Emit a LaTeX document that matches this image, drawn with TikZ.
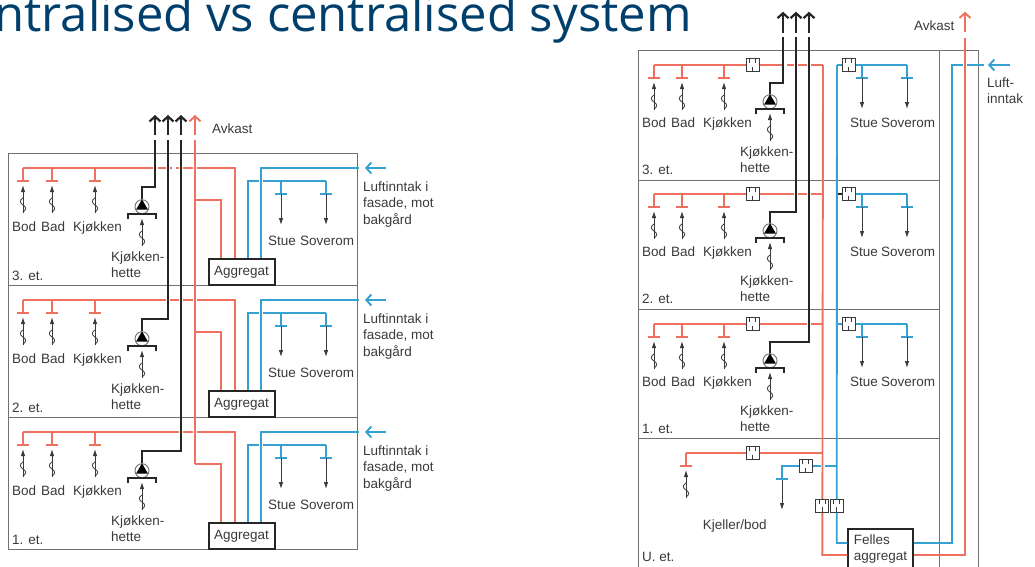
\documentclass[tikz,border=0pt]{standalone}
\usepackage{fontspec}
\setmainfont{Liberation Sans}
\newfontfamily\titlefont{Open Sans}
\usetikzlibrary{arrows.meta,calc}
\definecolor{ductr}{HTML}{F0705F}
\definecolor{ductb}{HTML}{35A0D2}
\definecolor{inkk}{HTML}{3A3A3A}
\definecolor{wallc}{HTML}{707070}
\definecolor{titlec}{HTML}{003F6C}
\tikzset{
  wall/.style={draw=wallc, line width=1pt},
  ductred/.style={draw=ductr, line width=1.9pt},
  ductblu/.style={draw=ductb, line width=1.9pt},
  ductblk/.style={draw=black!85, line width=2.2pt},
  outr/.style={-{Straight Barb[length=5pt,width=11pt]}},
  gap/.style={draw=white, line width=3pt},
  flowline/.style={draw=inkk, line width=0.9pt, -{Latex[length=7pt,width=4.5pt]}},
  lbl/.style={font=\fontsize{13.5}{16.5}\selectfont, text=inkk, anchor=base west, inner sep=0pt, align=left},
  agg/.style={draw=black!85, line width=2pt, fill=white, inner sep=0pt, font=\fontsize{13.5}{16.5}\selectfont, text=inkk},
  fan/.style={circle, draw=wallc, line width=0.9pt, minimum size=14pt, inner sep=0pt},
  damper/.style={draw=inkk, line width=1pt, fill=white, minimum size=13pt, inner sep=0pt, path picture={
    \draw[inkk, line width=0.9pt] ([xshift=-3pt]path picture bounding box.north) -- ++(0,4.5)
      ([xshift=3pt]path picture bounding box.north) -- ++(0,4.5)
      (path picture bounding box.south) -- ++(0,-5);}},
  flow/.pic={
    \draw[flowline] (0,28) -- (0,0);
    \draw[inkk, line width=0.8pt] (0,27) .. controls (3.5,25) and (3.5,22) .. (0,20) .. controls (-3.5,18) and (-3.5,15) .. (0,13);},
  exhaust/.pic={
    \draw[ductred] (0,0) -- (0,13) (-6,13) -- (6,13);
    \pic at (0,17) {flow};},
  intake/.pic={
    \draw[ductblu] (0,0) -- (0,13) (-6,13) -- (6,13);
    \draw[flowline] (0,13) -- (0,44);},
  hood/.pic={
    \fill[black] (0,-7.5) -- (6,3) -- (-6,3) -- cycle;
    \draw[ductblk] (-14,12.5) |- (14,7.5) -- (14,12.5);
    \pic at (0,11.3) {flow};}
}
\begin{document}
\begin{tikzpicture}[x=1pt,y=-1pt]
  \useasboundingbox (0,0) rectangle (1035,566);
  \node[font=\titlefont\fontsize{49}{49}\selectfont, text=titlec, anchor=base east, inner sep=0pt] (title) at (692,31) {ntralised vs centralised system};
  % decentralised, one unit per floor
  \draw[wall] (8,153.5) rectangle (357.5,549) (8,285.5) -- (357.5,285.5) (8,417.5) -- (357.5,417.5);
  \foreach \fl/\dy/\rx/\gaps in {3/0/155/{155.8,168,174,181,195},2/132/168/{168,181,195},1/264/181/{181,195}} {
    \node[agg, minimum width=66pt, minimum height=26pt] (agg\fl) at (241.5,272+\dy) {Aggregat};
    \node[fan] (fan\fl) at (142,206.7+\dy) {};
    \pic at (142,206.7+\dy) {hood};
    \pic at (23,168+\dy) {exhaust};
    \pic at (52,168+\dy) {exhaust};
    \pic at (95,168+\dy) {exhaust};
    \pic at (281,181+\dy) {intake};
    \pic at (326,181+\dy) {intake};
    \draw[ductred] (23,168+\dy) -| ([xshift=-6.5pt]agg\fl.north);
    \foreach \x in \gaps {\draw[gap] (\x-2.4,168+\dy) -- (\x+2.4,168+\dy);}
    \draw[ductred] (195,199.6+\dy) -| ([xshift=-20.3pt]agg\fl.north);
    \draw[ductblu] ([xshift=6.5pt]agg\fl.north) |- (326,181+\dy);
    \draw[gap] (258.6,181+\dy) -- (263.4,181+\dy);
    \draw[ductblu] ([xshift=19.5pt]agg\fl.north) |- (358.5,168+\dy);
    \draw[ductblu, outr] (386,168+\dy) -- (365,168+\dy);
    \draw[ductblk] (fan\fl.north) |- (\rx,187.3+\dy) -- (\rx,140);
    \draw[ductblk, outr] (\rx,135) -- (\rx,115);
    \node[lbl] (bod\fl) at (12,231.5+\dy) {Bod};
    \node[lbl] (bad\fl) at (41,231.5+\dy) {Bad};
    \node[lbl] (kjo\fl) at (73,231.5+\dy) {Kjøkken};
    \node[lbl] (het\fl) at (111,277.5+\dy) {Kjøkken-\\hette};
    \node[lbl] (eta\fl) at (12,280+\dy) {\fl. et.};
    \node[lbl] (stu\fl) at (268,245+\dy) {Stue};
    \node[lbl] (sov\fl) at (300,245+\dy) {Soverom};
    \node[lbl] (inn\fl) at (363,224+\dy) {Luftinntak i\\fasade, mot\\bakgård};
  }
  \draw[ductred] (195,464) -- (195,140);
  \draw[ductred, outr] (195,135) -- (195,115);
  \node[lbl] (avkl) at (212,133) {Avkast};
  % centralised, one unit in the basement
  \draw[wall] (638.5,568) |- (978.5,50.5) -- (978.5,568) (939.7,50.5) -- (939.7,568)
    (638.5,180) -- (939.7,180) (638.5,309.4) -- (939.7,309.4) (638.5,438.8) -- (939.7,438.8);
  \foreach \fl/\dy/\rx/\gaps in {3/0/783/{784.4,796,809},2/129/796/{796,809},1/259/809/{809}} {
    \node[fan] (zfan\fl) at (770,101.7+\dy) {};
    \pic at (770,101.7+\dy) {hood};
    \pic at (654,65+\dy) {exhaust};
    \pic at (682,65+\dy) {exhaust};
    \pic at (724,65+\dy) {exhaust};
    \pic at (862,65+\dy) {intake};
    \pic at (907,65+\dy) {intake};
    \node[damper] (dred\fl) at (752.7,65+\dy) {};
    \node[damper] (dblu\fl) at (848.8,65+\dy) {};
    \draw[ductred] (654,65+\dy) -- (dred\fl.west) (dred\fl.east) -- (823,65+\dy);
    \foreach \x in \gaps {\draw[gap] (\x-2.4,65+\dy) -- (\x+2.4,65+\dy);}
    \draw[ductblu] (837,65+\dy) -- (dblu\fl.west);
    \draw[ductblu] (dblu\fl.east) -- (907,65+\dy);
    \draw[ductblk] (zfan\fl.north) |- (\rx,83.3+\dy) -- (\rx,37.3);
    \draw[ductblk, outr] (\rx,32.7) -- (\rx,11.7);
    \node[lbl] (zbod\fl) at (642,127+\dy) {Bod};
    \node[lbl] (zbad\fl) at (671,127+\dy) {Bad};
    \node[lbl] (zkjo\fl) at (703,127+\dy) {Kjøkken};
    \node[lbl] (zhet\fl) at (740,172.5+\dy) {Kjøkken-\\hette};
    \node[lbl] (zeta\fl) at (642,174+\dy) {\fl. et.};
    \node[lbl] (zstu\fl) at (850,127+\dy) {Stue};
    \node[lbl] (zsov\fl) at (881,127+\dy) {Soverom};
  }
  % basement
  \node[agg, minimum width=65pt, minimum height=39.4pt, text width=54pt, align=left] (felles) at (880.8,549) {Felles\\aggregat};
  \node[damper] (dredu) at (752.7,453) {};
  \node[damper] (dbluu) at (805.6,466) {};
  \node[damper] (dredr) at (822.4,505.8) {};
  \node[damper] (dblur) at (836.7,505.8) {};
  \pic at (686,453) {exhaust};
  \pic at (782,466) {intake};
  \draw[ductblu, line width=2.3pt] (dbluu.west) -| (782,479) (776,479) -- (788,479);
  \draw[ductblk] (837,194) -- (dblu2.west);
  \draw[ductred] (686,453) -- (dredu.west) (dredu.east) -- (823,453);
  \draw[ductblu] (dbluu.east) -- (837,466);
  \draw[gap] (820.6,466) -- (825.4,466);
  \draw[ductred] (823,65) -- (dredr.north) (dredr.south) |- (felles.west |- 0,555);
  \draw[ductblu] (837,65) -- (dblur.north) (dblur.south) |- (felles.west |- 0,543);
  \draw[ductblu] (felles.east |- 0,543) -| (952,65) -- (984,65);
  \draw[gap] (962.6,65) -- (967.4,65);
  \draw[ductred] (felles.east |- 0,555) -| (965,37.7);
  \draw[ductred, outr] (965,31.7) -- (965,11.7);
  \draw[ductblu, outr] (1010,65) -- (988,65);
  \node[lbl] (avkr) at (914,30) {Avkast};
  \node[lbl] (inntr) at (987,103.5) {Luft-\\inntak};
  \node[lbl] (kjel) at (702.7,529) {Kjeller/bod};
  \node[lbl] (etau) at (642,561) {U. et.};
\end{tikzpicture}
\end{document}
